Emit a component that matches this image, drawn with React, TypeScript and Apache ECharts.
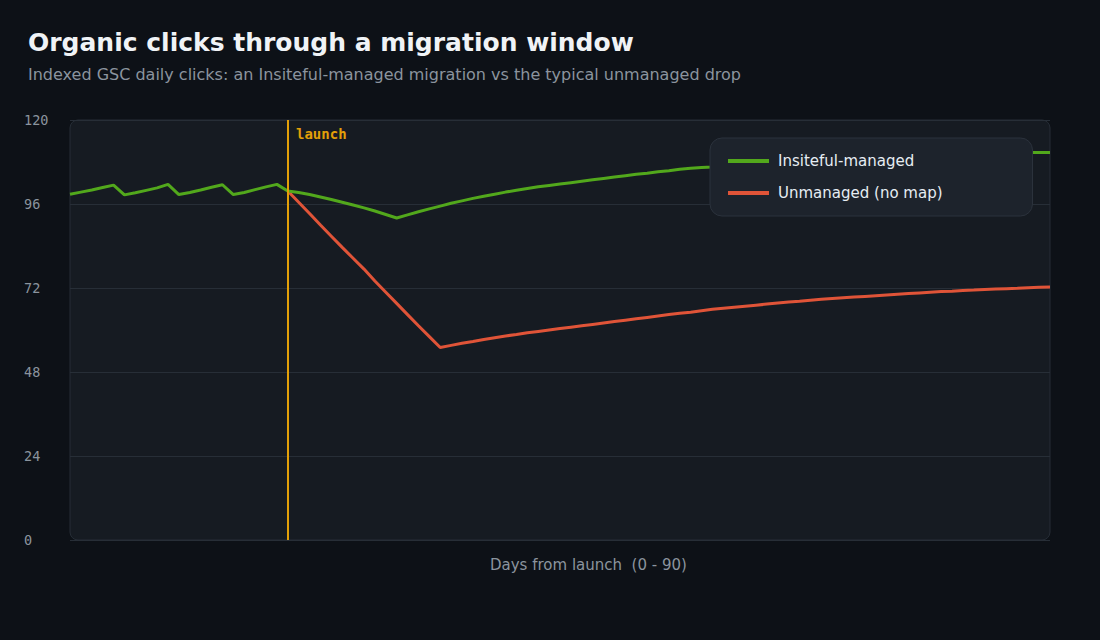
import React, { useEffect, useRef } from "react";
import * as echarts from "echarts";

const TITLE = "Organic clicks through a migration window";
const SUBTITLE =
  "Indexed GSC daily clicks: an Insiteful-managed migration vs the typical unmanaged drop";
const X_NAME = "Days from launch  (0 - 90)";
const SERIES_NAMES = ["Insiteful-managed", "Unmanaged (no map)"];

const DAYS = Array.from({ length: 91 }, (_, i) => String(i));
const LAUNCH_DAY = "20";
const LAUNCH_INDEX = 20;

const Y_MIN = 0;
const Y_MAX = 120;
const Y_STEP = 24;

// Indexed clicks, day 0..90
const managed = [
  98.8, 99.4, 100.0, 100.7, 101.4,
  98.6, 99.2, 99.9, 100.6, 101.6,
  98.7, 99.3, 100.0, 100.8, 101.5,
  98.7, 99.3, 100.1, 100.9, 101.6,
  99.7,
  99.3, 98.7, 98.0, 97.3, 96.5, 95.7, 94.9, 94.0, 93.0, 92.0,
  92.9, 93.8, 94.6, 95.4, 96.2, 96.9, 97.6, 98.2, 98.8, 99.4,
  99.9, 100.4, 100.9, 101.3, 101.7, 102.1, 102.5, 102.9, 103.3, 103.7,
  104.1, 104.5, 104.8, 105.2, 105.5, 105.9, 106.2, 106.4,
  106.6, 106.9, 107.1, 107.4, 107.6, 107.8, 108.0, 108.2, 108.4, 108.6,
  108.8, 108.9, 109.1, 109.2, 109.4, 109.5, 109.6, 109.8, 109.9, 110.0,
  110.1, 110.2, 110.3, 110.3, 110.4, 110.5, 110.5, 110.6, 110.6, 110.7,
  110.7, 110.7,
];

// Indexed clicks, day 20 (launch) .. 90
const unmanagedFromLaunch = [
  99.7, 96.5, 93.3, 90.0, 86.8, 83.6, 80.5, 77.4, 74.0, 70.8,
  67.6, 64.4, 61.2, 58.1, 55.0,
  55.6, 56.2, 56.7, 57.3, 57.8, 58.3, 58.7, 59.2, 59.6, 60.0,
  60.4, 60.8, 61.2, 61.6, 62.0, 62.4, 62.8, 63.2, 63.6, 64.0,
  64.4, 64.8, 65.1, 65.5, 65.9, 66.2, 66.5, 66.8, 67.1, 67.4,
  67.7, 68.0, 68.2, 68.5, 68.8, 69.0, 69.2, 69.4, 69.6, 69.8,
  70.0, 70.2, 70.4, 70.6, 70.8, 71.0, 71.1, 71.3, 71.4, 71.6,
  71.7, 71.8, 71.9, 72.1, 72.2, 72.3,
];

const COLORS = {
  bg: "#0d1117",
  panel: "#161b22",
  panelBorder: "#262d36",
  grid: "#272e37",
  green: "#52a81c",
  red: "#e05438",
  launch: "#e3a008",
  title: "#f0f3f6",
  muted: "#8b949e",
  legendBg: "#1d232c",
  legendBorder: "#2b323c",
  legendText: "#e6edf3",
};

const SANS = "'DejaVu Sans', sans-serif";
const MONO = "'DejaVu Sans Mono', monospace";

export default function App() {
  const ref = useRef<HTMLDivElement>(null);

  useEffect(() => {
    if (!ref.current) return;
    const chart = echarts.init(ref.current, undefined, { renderer: "svg" });

    const unmanaged: (number | null)[] = DAYS.map((_, i) =>
      i < LAUNCH_INDEX ? null : unmanagedFromLaunch[i - LAUNCH_INDEX]
    );

    chart.setOption({
      animation: false,
      backgroundColor: COLORS.bg,
      textStyle: { fontFamily: SANS },
      title: {
        text: TITLE,
        subtext: SUBTITLE,
        left: 28,
        top: 27,
        padding: 0,
        itemGap: 8,
        textStyle: {
          color: COLORS.title,
          fontSize: 25,
          fontWeight: "bold",
          fontFamily: SANS,
          lineHeight: 30,
        },
        subtextStyle: {
          color: COLORS.muted,
          fontSize: 16,
          fontFamily: SANS,
          lineHeight: 18,
        },
      },
      grid: { left: 70, right: 50, top: 120, bottom: 100, containLabel: false },
      legend: {
        data: SERIES_NAMES,
        orient: "vertical",
        left: 710,
        top: 138,
        z: 20,
        padding: [14, 90, 14, 18],
        backgroundColor: COLORS.legendBg,
        borderColor: COLORS.legendBorder,
        borderWidth: 1,
        borderRadius: 12,
        icon: "rect",
        itemWidth: 41,
        itemHeight: 4,
        itemGap: 14,
        textStyle: {
          color: COLORS.legendText,
          fontSize: 15,
          fontFamily: SANS,
          lineHeight: 18,
          padding: [0, 0, 0, 4],
        },
      },
      xAxis: {
        type: "category",
        data: DAYS,
        boundaryGap: false,
        axisLine: { show: false },
        axisTick: { show: false },
        axisLabel: { show: false },
        splitLine: { show: false },
      },
      yAxis: {
        type: "value",
        min: Y_MIN,
        max: Y_MAX,
        interval: Y_STEP,
        axisLine: { show: false },
        axisTick: { show: false },
        axisLabel: {
          color: COLORS.muted,
          fontFamily: MONO,
          fontSize: 13.5,
          align: "left",
          margin: 46,
        },
        splitLine: { lineStyle: { color: COLORS.grid, width: 1 } },
      },
      graphic: [
        {
          type: "rect",
          z: -10,
          silent: true,
          shape: { x: 70, y: 120, width: 980, height: 420, r: 8 },
          style: { fill: COLORS.panel, stroke: COLORS.panelBorder, lineWidth: 1 },
        },
        {
          type: "text",
          x: 296,
          y: 134,
          z: 10,
          silent: true,
          style: {
            text: "launch",
            fill: COLORS.launch,
            font: `bold 14px ${MONO}`,
            textVerticalAlign: "middle",
            verticalAlign: "middle",
          },
        },
        {
          type: "text",
          x: 490,
          y: 565,
          silent: true,
          style: {
            text: X_NAME,
            fill: COLORS.muted,
            font: `15px ${SANS}`,
            verticalAlign: "middle",
            textVerticalAlign: "middle",
          },
        },
      ],
      series: [
        {
          name: SERIES_NAMES[0],
          type: "line",
          data: managed,
          symbol: "none",
          z: 4,
          lineStyle: { color: COLORS.green, width: 3 },
          itemStyle: { color: COLORS.green },
          markLine: {
            silent: true,
            symbol: "none",
            z: 6,
            label: { show: false },
            lineStyle: { color: COLORS.launch, width: 2, type: "solid" },
            data: [{ xAxis: LAUNCH_DAY }],
          },
        },
        {
          name: SERIES_NAMES[1],
          type: "line",
          data: unmanaged,
          symbol: "none",
          z: 3,
          lineStyle: { color: COLORS.red, width: 3 },
          itemStyle: { color: COLORS.red },
        },
      ],
    });

    return () => chart.dispose();
  }, []);

  return (
    <div
      ref={ref}
      style={{ position: "fixed", left: 0, top: 0, width: 1100, height: 640 }}
    />
  );
}
